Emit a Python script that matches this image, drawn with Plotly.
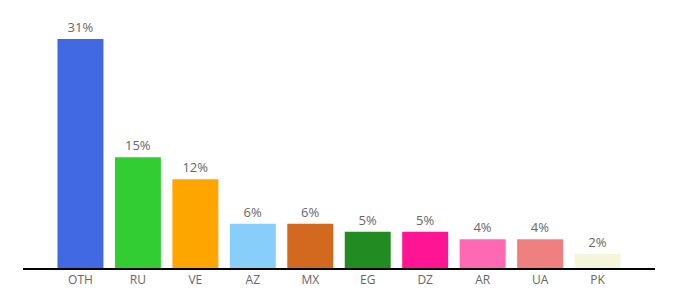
import plotly.graph_objects as go

categories = ["OTH", "RU", "VE", "AZ", "MX", "EG", "DZ", "AR", "UA", "PK"]
values = [31.0, 15.0, 12.0, 6.0, 6.0, 4.9, 4.9, 3.9, 3.9, 1.9]
labels = ["31%", "15%", "12%", "6%", "6%", "5%", "5%", "4%", "4%", "2%"]
colors = ["#4169E1", "#32CD32", "#FFA500", "#87CEFA", "#D2691E",
          "#228B22", "#FF1493", "#FF69B4", "#F08080", "#F5F5DC"]

fig = go.Figure(go.Bar(
    x=categories, y=values, marker_color=colors, marker_line_width=0,
    text=labels, textposition="outside", cliponaxis=False,
    textfont=dict(family="Open Sans, DejaVu Sans, sans-serif", size=13, color="#666666"),
    hoverinfo="skip",
))
fig.update_layout(
    width=680, height=300,
    margin=dict(l=23, r=25, t=10, b=32),
    paper_bgcolor="white", plot_bgcolor="white",
    bargap=0.2, showlegend=False,
    font=dict(family="Open Sans, DejaVu Sans, sans-serif", size=12, color="#666666"),
)
fig.update_xaxes(range=[-1, 10], showline=True, linecolor="black", linewidth=1.5,
                 ticks="", showgrid=False, tickfont=dict(size=12, color="#666666"))
fig.update_yaxes(range=[0, 34.93], visible=False, showgrid=False)
fig.write_html("out.html")
